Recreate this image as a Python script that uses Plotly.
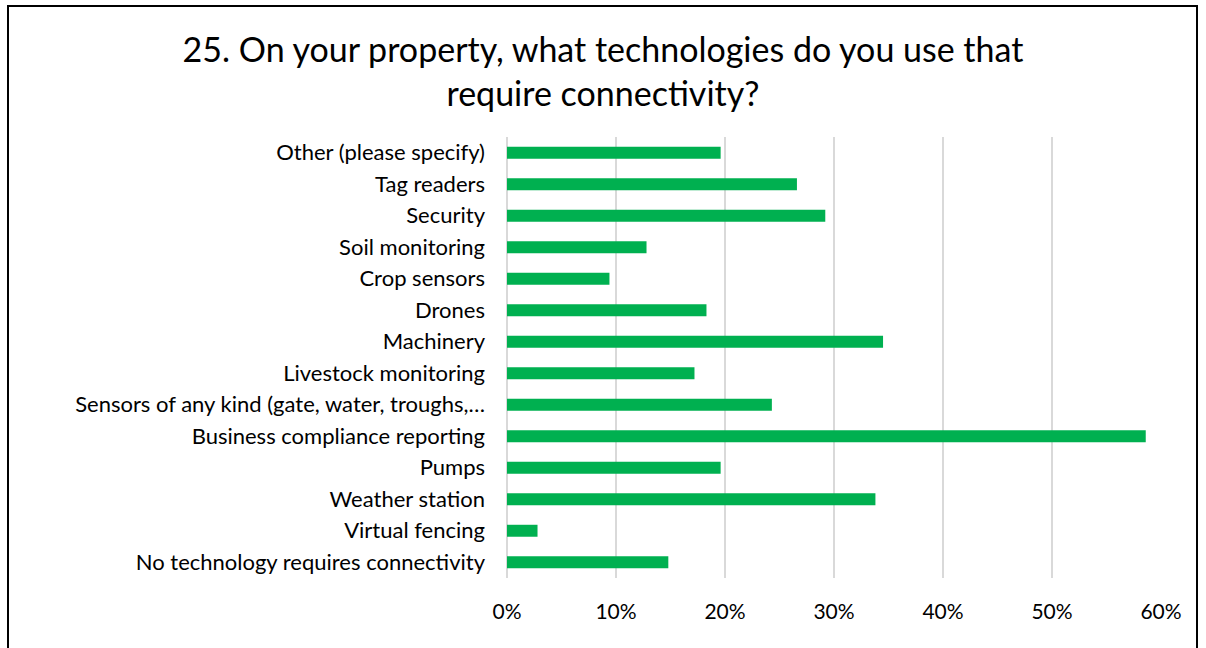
import plotly.graph_objects as go

# Technologies, listed top to bottom as they appear on the chart
categories = [
    "Other (please specify)",
    "Tag readers",
    "Security",
    "Soil monitoring",
    "Crop sensors",
    "Drones",
    "Machinery",
    "Livestock monitoring",
    "Sensors of any kind (gate, water, troughs,…",
    "Business compliance reporting",
    "Pumps",
    "Weather station",
    "Virtual fencing",
    "No technology requires connectivity",
]
# Share of respondents using each technology
shares = [0.196, 0.266, 0.292, 0.128, 0.094, 0.183, 0.345, 0.172,
          0.243, 0.586, 0.196, 0.338, 0.028, 0.148]

tick_vals = [0, 0.1, 0.2, 0.3, 0.4, 0.5, 0.6]
tick_text = ["0%", "10%", "20%", "30%", "40%", "50%", "60%"]

FONT = "Lato, Calibri, Carlito, sans-serif"

fig = go.Figure(
    go.Bar(
        x=shares,
        y=categories,
        orientation="h",
        marker=dict(color="#00B050", line=dict(width=0)),
        hovertemplate="%{y}: %{x:.1%}<extra></extra>",
    )
)

fig.update_layout(
    width=1206,
    height=648,
    margin=dict(l=507, r=45, t=137, b=70),
    paper_bgcolor="white",
    plot_bgcolor="white",
    bargap=0.62,
    showlegend=False,
    title=dict(
        text="25. On your property, what technologies do you use that<br>require connectivity?",
        x=0.5,
        xanchor="center",
        y=1 - 62 / 648,
        yanchor="top",
        yref="container",
        font=dict(family=FONT, size=34, color="#000000"),
        pad=dict(t=0, b=0),
    ),
    font=dict(family=FONT, size=22, color="#000000"),
)

fig.update_xaxes(
    range=[0, 0.6],
    tickvals=tick_vals,
    ticktext=tick_text,
    showgrid=True,
    gridcolor="#D9D9D9",
    gridwidth=1.5,
    zeroline=True,
    zerolinecolor="#D9D9D9",
    zerolinewidth=1.5,
    showline=False,
    ticks="",
    ticklabelstandoff=19,
    tickfont=dict(family=FONT, size=21, color="#000000"),
)

fig.update_yaxes(
    autorange="reversed",
    showgrid=False,
    showline=False,
    ticks="",
    ticklabelstandoff=21,
    tickfont=dict(family=FONT, size=22, color="#000000"),
)

# Outer frame around the whole chart
fig.add_shape(
    type="rect",
    xref="paper", yref="paper",
    x0=(8 - 507) / 654, x1=(1197 - 507) / 654,
    y0=-0.3, y1=(578 - 6) / 441,
    line=dict(color="#000000", width=2),
    fillcolor="rgba(0,0,0,0)",
    layer="below",
)

fig.write_html("out.html")
